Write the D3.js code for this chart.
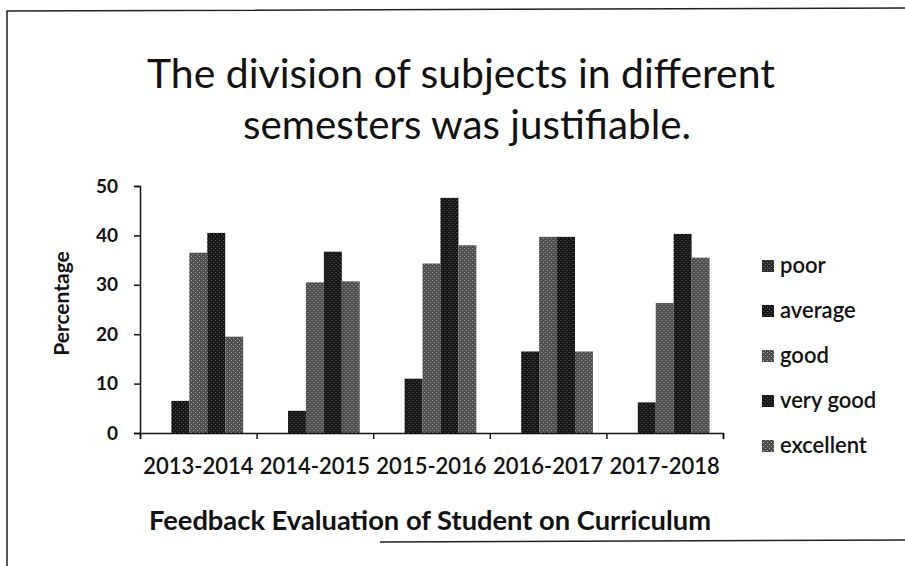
<!DOCTYPE html>
<html>
<head>
<meta charset="utf-8">
<script src="https://cdn.jsdelivr.net/npm/d3@7"></script>
<style>
  body { margin: 0; background: #fff; }
  svg { display: block; font-family: Lato, "Open Sans", sans-serif; }
</style>
</head>
<body>
<svg id="chart"></svg>
<script>
// values (percent)
const categories = ['2013-2014', '2014-2015', '2015-2016', '2016-2017', '2017-2018'];
const seriesNames = ['poor', 'average', 'good', 'very good', 'excellent'];
const poor = [0, 0, 0, 0, 0];
const average = [6.5, 4.5, 11, 16.5, 6.2];
const good = [36.5, 30.5, 34.3, 39.7, 26.3];
const veryGood = [40.5, 36.7, 47.6, 39.7, 40.3];
const excellent = [19.5, 30.7, 38, 16.5, 35.5];
const yTicks = [0, 10, 20, 30, 40, 50];

const seriesValues = [poor, average, good, veryGood, excellent];
const rows = categories.map((c, i) => ({
    cat: c,
    vals: seriesNames.map((s, j) => ({key: s, value: seriesValues[j][i]}))
}));

const W = 905, H = 566;
const margin = {top: 186, right: 182, bottom: 133, left: 140};
const width = W - margin.left - margin.right;
const height = H - margin.top - margin.bottom;

const svg = d3.select('#chart').attr('width', W).attr('height', H);

// halftone-ish fills like the scan
const defs = svg.append('defs');
function stipple(id, base, dot) {
    const p = defs.append('pattern').attr('id', id)
        .attr('width', 4).attr('height', 4).attr('patternUnits', 'userSpaceOnUse');
    p.append('rect').attr('width', 4).attr('height', 4).attr('fill', base);
    p.append('rect').attr('x', 1).attr('y', 0).attr('width', 1).attr('height', 1).attr('fill', dot);
    p.append('rect').attr('x', 3).attr('y', 2).attr('width', 1).attr('height', 1).attr('fill', dot);
}
stipple('pPoor', '#2a2a2a', '#777');
stipple('pDark', '#161616', '#555');
stipple('pGray', '#4e4e4e', '#a8a8a8');

const color = d3.scaleOrdinal()
    .domain(seriesNames)
    .range(['url(#pPoor)', 'url(#pDark)', 'url(#pGray)', 'url(#pDark)', 'url(#pGray)']);

// outer frame of the scanned figure
svg.append('path')
    .attr('d', 'M7,566 L7,11 L905,8')
    .attr('fill', 'none').attr('stroke', '#222').attr('stroke-width', 1.5);
svg.append('path')
    .attr('d', 'M380,542 L905,540')
    .attr('fill', 'none').attr('stroke', '#222').attr('stroke-width', 1.5);

// title
const title = svg.append('text')
    .attr('text-anchor', 'middle')
    .attr('font-size', 40)
    .attr('fill', '#111');
title.append('tspan').attr('x', 461).attr('y', 88)
    .attr('textLength', 628).attr('lengthAdjust', 'spacingAndGlyphs')
    .text('The division of subjects in different');
title.append('tspan').attr('x', 467).attr('y', 139)
    .attr('textLength', 448).attr('lengthAdjust', 'spacingAndGlyphs')
    .text('semesters was justifiable.');

const g = svg.append('g').attr('transform', `translate(${margin.left},${margin.top})`);

const x0 = d3.scaleBand().domain(categories).range([0, width]);
const x1 = d3.scaleBand().domain(seriesNames).range([0, x0.bandwidth()])
    .paddingInner(0).paddingOuter(0.75);
const y = d3.scaleLinear().domain([0, 50]).range([height, 0]);

// bars
g.selectAll('.grp')
    .data(rows)
    .join('g')
    .attr('class', 'grp')
    .attr('transform', d => `translate(${x0(d.cat)},0)`)
    .selectAll('rect')
    .data(d => d.vals)
    .join('rect')
    .attr('x', d => x1(d.key))
    .attr('y', d => y(d.value))
    .attr('width', x1.bandwidth())
    .attr('height', d => height - y(d.value))
    .attr('fill', d => color(d.key));

// y axis
const yAxis = d3.axisLeft(y).tickValues(yTicks).tickSize(6).tickPadding(16);
const yG = g.append('g').call(yAxis);
yG.select('.domain').attr('stroke', '#111').attr('stroke-width', 1.5);
yG.selectAll('.tick line').attr('stroke', '#111').attr('stroke-width', 1.5);
yG.selectAll('.tick text')
    .attr('font-size', 19).attr('font-weight', 'bold').attr('fill', '#111')
    .attr('font-family', 'Lato, sans-serif');

// x axis: ticks at category boundaries, labels centred
const xb = d3.scaleLinear().domain([0, categories.length]).range([0, width]);
const xG = g.append('g').attr('transform', `translate(0,${height})`)
    .call(d3.axisBottom(xb).ticks(categories.length).tickSize(6).tickFormat(''));
xG.select('.domain').attr('stroke', '#111').attr('stroke-width', 1.5);
xG.selectAll('.tick line').attr('stroke', '#111').attr('stroke-width', 1.5);

const xLab = g.append('g').attr('transform', `translate(0,${height})`)
    .call(d3.axisBottom(x0).tickSize(0).tickPadding(25));
xLab.select('.domain').remove();
xLab.selectAll('.tick text')
    .attr('font-size', 22).attr('font-weight', 600).attr('fill', '#111')
    .attr('font-family', 'Lato, sans-serif');

// axis titles
g.append('text')
    .attr('transform', `translate(${-71},${height / 2 - 6}) rotate(-90)`)
    .attr('text-anchor', 'middle')
    .attr('font-size', 21).attr('font-weight', 'bold').attr('fill', '#111')
    .text('Percentage');

g.append('text')
    .attr('x', 430 - margin.left).attr('y', height + 97)
    .attr('text-anchor', 'middle')
    .attr('font-size', 27).attr('font-weight', 'bold').attr('fill', '#111')
    .attr('textLength', 562).attr('lengthAdjust', 'spacingAndGlyphs')
    .text('Feedback Evaluation of Student on Curriculum');

// legend
const legend = svg.append('g').attr('transform', 'translate(762,266)')
    .selectAll('g')
    .data(seriesNames)
    .join('g')
    .attr('transform', (d, i) => `translate(0,${i * 45})`);
legend.append('rect')
    .attr('x', 0).attr('y', -6).attr('width', 12).attr('height', 12)
    .attr('fill', d => color(d));
legend.append('text')
    .attr('x', 18).attr('y', 0).attr('dy', '0.33em')
    .attr('font-size', 22).attr('font-weight', 600).attr('fill', '#111')
    .text(d => d);
</script>
</body>
</html>
